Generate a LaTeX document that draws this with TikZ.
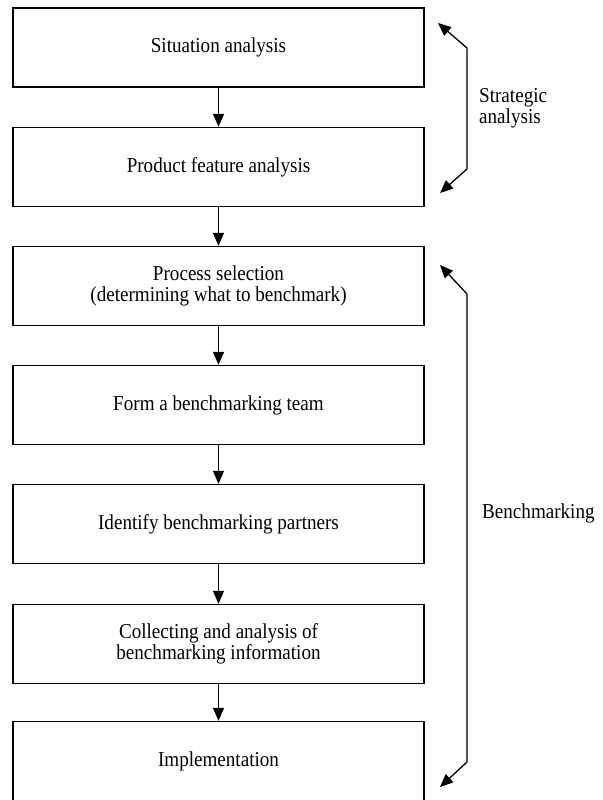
\documentclass[tikz,border=0pt]{standalone}
\usepackage{fontspec}
\setmainfont{Liberation Serif}
\newfontfamily\labelfont[FakeStretch=0.9]{Liberation Serif}
\usetikzlibrary{arrows.meta}
\begin{document}
\begin{tikzpicture}[x=1bp,y=-1bp,
  stagebox/.style={draw=black, line width=1.4bp, minimum width=411bp, minimum height=79bp,
    align=center, inner sep=0pt, font=\labelfont\fontsize{21.3}{21.5}\selectfont},
  flow/.style={line width=1.3bp, -{Triangle[length=13bp,width=11bp]}},
  span/.style={line width=1.3bp, {Triangle[length=13bp,width=11bp]}-{Triangle[length=13bp,width=11bp]}},
  sidelabel/.style={anchor=west, align=left, inner sep=0pt, font=\labelfont\fontsize{21.3}{21.5}\selectfont}]
\useasboundingbox (0,0) rectangle (603,800);
\fill[white] (0,0) rectangle (603,800);

% process stages
\node[stagebox] (s1) at (218.5,47.5) {Situation analysis};
\node[stagebox] (s2) at (218.5,167) {Product feature analysis};
\node[stagebox] (s3) at (218.5,286) {Process selection\\(determining what to benchmark)};
\node[stagebox] (s4) at (218.5,405) {Form a benchmarking team};
\node[stagebox] (s5) at (218.5,524) {Identify benchmarking partners};
\node[stagebox] (s6) at (218.5,644) {Collecting and analysis of\\benchmarking information};
\node[stagebox] (s7) at (218.5,761) {Implementation};

\draw[flow] (s1) -- (s2);
\draw[flow] (s2) -- (s3);
\draw[flow] (s3) -- (s4);
\draw[flow] (s4) -- (s5);
\draw[flow] (s5) -- (s6);
\draw[flow] (s6) -- (s7);

% phase brackets
\coordinate (a1) at (438,23);
\coordinate (a2) at (467,48);
\coordinate (a3) at (467,169);
\coordinate (a4) at (440,193);
\draw[span] (a1) -- (a2) -- (a3) -- (a4);
\node[sidelabel] (strat) at (479,108) {Strategic\\analysis};

\coordinate (b1) at (440,265);
\coordinate (b2) at (467,294);
\coordinate (b3) at (467,762);
\coordinate (b4) at (440,787);
\draw[span] (b1) -- (b2) -- (b3) -- (b4);
\node[sidelabel] (bench) at (482,513) {Benchmarking};
\end{tikzpicture}
\end{document}
